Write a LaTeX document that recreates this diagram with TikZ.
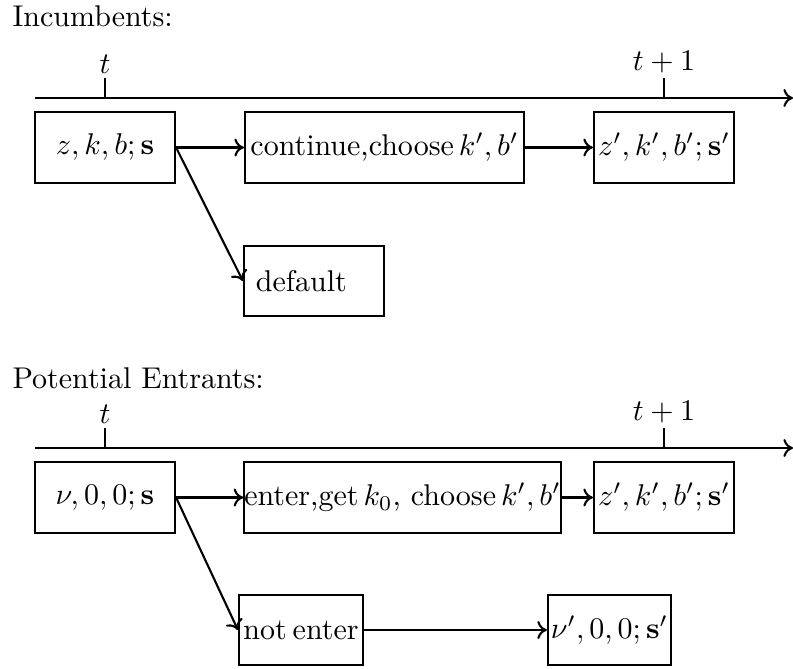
\documentclass[tikz,border=0pt]{standalone}
\usetikzlibrary{arrows.meta}
\begin{document}
\begin{tikzpicture}[x=0.33333pt,y=-0.33333pt,
  every node/.style={font=\normalsize},
  box/.style={draw, line width=0.7pt, minimum height=23.67pt, inner sep=0pt},
  tip/.style={-{To[length=3.2pt,width=6pt]}},
  conn/.style={line width=0.7pt, tip},
  tline/.style={line width=0.7pt, tip},
  tick/.style={line width=0.7pt},
  lab/.style={inner sep=1.2pt}]
\useasboundingbox (0,0) rectangle (793,669);

% ---------- Incumbents ----------
\node[anchor=base west, inner sep=0pt] (inclab) at (12,27) {Incumbents:};
\coordinate (a1) at (35,98);
\coordinate (a2) at (793,98);
\draw[tline] (a1) -- (a2);
\coordinate (t1) at (105,98);
\coordinate (t2) at (664,98);
\draw[tick] (t1) -- ++(0,-20) node[lab, anchor=south] (tl1) {$t$};
\draw[tick] (t2) -- ++(0,-20) node[lab, anchor=south] (tl2) {$t+1$};

\node[box, minimum width=46.67pt] (inc) at (105,147.5) {$z,k,b;\mathbf{s}$};
\node[box, minimum width=93pt] (cont) at (384.5,147.5) {continue,choose\,$k',b'$};
\node[box, minimum width=46.67pt] (next) at (664,147.5) {$z',k',b';\mathbf{s}'$};
\node[box, minimum height=23.33pt, inner xsep=4pt, text width=38.67pt, align=left] (def) at (314,281) {default};

\draw[conn] (inc.east) -- (cont.west);
\draw[conn] (cont.east) -- (next.west);
\draw[conn] (inc.east) -- (def.west);

% ---------- Potential Entrants ----------
\node[anchor=base west, inner sep=0pt] (potlab) at (12,389) {Potential Entrants:};
\coordinate (b1) at (35,448);
\coordinate (b2) at (793,448);
\draw[tline] (b1) -- (b2);
\coordinate (u1) at (105,448);
\coordinate (u2) at (664,448);
\draw[tick] (u1) -- ++(0,-20) node[lab, anchor=south] (ul1) {$t$};
\draw[tick] (u2) -- ++(0,-20) node[lab, anchor=south] (ul2) {$t+1$};

\node[box, minimum width=46.67pt] (pot) at (105,497.5) {$\nu,0,0;\mathbf{s}$};
\node[box, minimum width=105pt] (enter) at (402.5,497.5) {enter,get\,$k_0$, choose\,$k',b'$};
\node[box, minimum width=46.67pt] (next2) at (664,497.5) {$z',k',b';\mathbf{s}'$};
\node[box, minimum width=41.33pt, minimum height=23.33pt] (notent) at (301,630) {not\hspace{2pt}enter};
\node[box, minimum width=41pt, minimum height=23.33pt] (next3) at (609.5,630) {$\nu',0,0;\mathbf{s}'$};

\draw[conn] (pot.east) -- (enter.west);
\draw[conn] (enter.east) -- (next2.west);
\draw[conn] (pot.east) -- (notent.west);
\draw[conn] (notent.east) -- (next3.west);
\end{tikzpicture}
\end{document}
